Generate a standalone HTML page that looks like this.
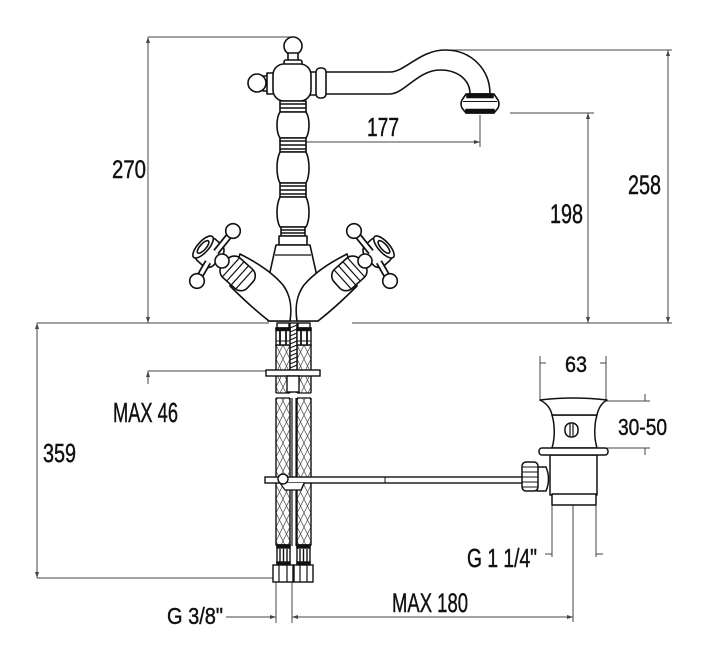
<!DOCTYPE html>
<html><head><meta charset="utf-8"><style>
html,body{margin:0;padding:0;background:#fff;}
svg{display:block;}
text{font-family:"Liberation Sans",sans-serif;fill:#111;stroke:#111;stroke-width:0.45;}
</style></head><body>
<svg width="705" height="662" viewBox="0 0 705 662" xmlns="http://www.w3.org/2000/svg">
<defs>
<pattern id="braid" x="276" y="345" width="7" height="14" patternUnits="userSpaceOnUse">
 <rect width="7" height="14" fill="#fff"/>
 <path d="M0,0 L7,14 M7,0 L0,14" stroke="#444" stroke-width="0.7"/>
</pattern>
</defs>

<!-- dimension lines -->
<g stroke="#444" stroke-width="1" fill="none">
 <path d="M148,37 H291 M148,37 V323"/>
 <path d="M37,323 H269 M37,323 V578 M37,578 H273"/>
 <path d="M148,311 V323 M148,371 H267 M148,371 V384"/>
 <path d="M300,142 H480 M480,115 V147"/>
 <path d="M510,113 H594 M588,113 V323"/>
 <path d="M443,50 H672 M668,50 V323 M352,323 H672"/>
 <path d="M540,356 V401 M606,356 V401 M540,363 H546 M600,363 H606"/>
 <path d="M606,401 H650 M606,448 H650 M645,394 V401 M645,448 V455"/>
 <path d="M552,505 V557 M596,505 V557 M545,554 H552 M596,554 H603 M573,505 V622"/>
 <path d="M292,617 H573 M292,582 V623 M276,582 V623 M226,617 H276"/>
</g>
<!-- small arrow tips -->
<g fill="#444" stroke="none">
 <path d="M148,37 l-2,6 h4z M148,323 l-2,-6 h4z M37,323 l-2,6 h4z M37,578 l-2,-6 h4z"/>
 <path d="M480,142 l-6,-2 v4z M588,113 l-2,6 h4z M588,323 l-2,-6 h4z M668,50 l-2,6 h4z M668,323 l-2,-6 h4z"/>
 <path d="M148,371 l-2,6 h4z M292,617 l6,-2 v4z M573,617 l-6,-2 v4z M276,617 l-6,-2 v4z"/>
</g>

<!-- labels -->
<text x="112" y="178" font-size="25" textLength="34" lengthAdjust="spacingAndGlyphs">270</text>
<text x="367" y="136" font-size="26" textLength="32" lengthAdjust="spacingAndGlyphs">177</text>
<text x="628" y="194" font-size="27" textLength="33" lengthAdjust="spacingAndGlyphs">258</text>
<text x="550" y="223" font-size="27" textLength="33" lengthAdjust="spacingAndGlyphs">198</text>
<text x="113" y="422" font-size="28" textLength="65" lengthAdjust="spacingAndGlyphs">MAX 46</text>
<text x="43" y="462" font-size="26" textLength="33" lengthAdjust="spacingAndGlyphs">359</text>
<text x="565" y="372" font-size="22" textLength="22" lengthAdjust="spacingAndGlyphs">63</text>
<text x="618" y="435" font-size="23" textLength="49" lengthAdjust="spacingAndGlyphs">30-50</text>
<text x="467" y="567" font-size="26" textLength="70" lengthAdjust="spacingAndGlyphs">G 1 1/4"</text>
<text x="392" y="612" font-size="27" textLength="76" lengthAdjust="spacingAndGlyphs">MAX 180</text>
<text x="167" y="624" font-size="23" textLength="56" lengthAdjust="spacingAndGlyphs">G 3/8"</text>

<!-- hoses -->
<g stroke="#111" stroke-width="1.4" fill="#fff">
 <rect x="276" y="345" width="14" height="200" fill="url(#braid)"/>
 <rect x="297" y="345" width="14" height="200" fill="url(#braid)"/>
 <!-- threaded rod -->
 <rect x="290" y="323" width="7" height="47"/>
 <path d="M290,328 L297,325 M290,332 L297,329 M290,336 L297,333 M290,340 L297,337 M290,344 L297,341 M290,348 L297,345 M290,352 L297,349 M290,356 L297,353 M290,360 L297,357 M290,364 L297,361 M290,368 L297,365" stroke-width="1"/>
 <!-- top fittings -->
 <rect x="277" y="323" width="12" height="5"/>
 <rect x="298" y="323" width="12" height="5"/>
 <rect x="276" y="328" width="14" height="17"/>
 <rect x="297" y="328" width="14" height="17"/>
 <rect x="276" y="328" width="14" height="2.5" fill="#111"/>
 <rect x="297" y="328" width="14" height="2.5" fill="#111"/>
 <path d="M280,331 V345 M286,331 V345 M301,331 V345 M307,331 V345" stroke-width="1.8"/>
 <path d="M276,341 H290 M297,341 H311" stroke-width="1"/>
 <!-- washer plate & nut -->
 <rect x="266" y="370" width="54" height="6"/>
 <rect x="287" y="376" width="12" height="16"/>
 <!-- break -->
 <rect x="274" y="393" width="40" height="5" fill="#fff" stroke="none"/>
 <path d="M276,393 H290 M297,393 H311 M276,398 H290 M297,398 H311" stroke-width="1.2"/>
 <!-- center rod -->
 <path d="M292,398 V546 M296,398 V546" stroke-width="1.2"/>
 <!-- pop-up rod -->
 <rect x="265" y="477" width="260" height="6"/>
 <path d="M385,477 V483" stroke-width="1"/>
 <path d="M280,483 L285,490 H301 L304,483" stroke-width="1.2"/>
 <circle cx="283" cy="479" r="5"/>
 <!-- bottom ferrules -->
 <rect x="277" y="545" width="13" height="20"/>
 <rect x="297" y="545" width="13" height="20"/>
 <rect x="277" y="545" width="13" height="3" fill="#111"/>
 <rect x="297" y="545" width="13" height="3" fill="#111"/>
 <rect x="277" y="562" width="13" height="3" fill="#111"/>
 <rect x="297" y="562" width="13" height="3" fill="#111"/>
 <path d="M280,549 V562 M283.5,549 V562 M287,549 V562 M300,549 V562 M303.5,549 V562 M307,549 V562" stroke-width="1.4"/>
 <!-- nuts -->
 <rect x="273" y="565" width="20" height="17"/>
 <rect x="294" y="565" width="19" height="17"/>
 <path d="M279,565 V582 M287,565 V582 M300,565 V582 M307,565 V582" stroke-width="1.2"/>
</g>

<!-- drain -->
<g stroke="#111" stroke-width="1.5" fill="#fff" stroke-linejoin="round">
 <rect x="550" y="455" width="47" height="40"/>
 <rect x="552" y="494" width="44" height="11"/>
 <path d="M552,415 C555,425 555,438 552,448 H597 C594,438 594,425 597,415 Z"/>
 <path d="M540,400 Q573,396 607,400 C600,404 598,410 597,415 H552 C551,410 548,404 540,400 Z"/>
 <rect x="565" y="423" width="13" height="14" rx="6"/>
 <path d="M570,424 V436 M573,424 V436" stroke-width="1.2"/>
 <rect x="539" y="448" width="69" height="7" rx="3"/>
 <path d="M537,467 H546 Q551,479 546,491 H537 Z"/>
 <rect x="522" y="462" width="16" height="29" rx="4"/>
 <path d="M522,467 H538 M522,472 H538 M522,477 H538 M522,482 H538 M522,487 H538" stroke-width="1"/>
</g>

<!-- faucet body -->
<g stroke="#111" stroke-width="1.6" fill="#fff" stroke-linejoin="round">
 <!-- spout -->
 <path d="M322,72 H390 C405,72 420,50 445,50 C472,50 490,70 490,94 H470 C470,80 458,70 440,70 C418,70 404,94 390,94 H322 Z"/>
 <path d="M466,94 H494 L498,100 Q500,104 498,108 L494,113 H466 L462,108 Q460,104 462,100 Z"/>
 <rect x="467" y="94" width="26" height="3.5" fill="#111"/>
 <rect x="466" y="109.5" width="28" height="3.5" fill="#111"/>
 <line x1="463" y1="101.5" x2="497" y2="101.5" stroke-width="1"/>
 <rect x="310" y="72" width="7" height="23"/>
 <rect x="316" y="68" width="10" height="30" rx="4"/>

 <!-- top ball & hub -->
 <circle cx="293" cy="46" r="9"/>
 <rect x="288" y="53" width="10" height="8"/>
 <rect x="284" y="60" width="18" height="6" rx="2"/>
 <rect x="263" y="76" width="6" height="15"/>
 <circle cx="257" cy="83" r="9"/>
 <rect x="267" y="73" width="7" height="21"/>
 <rect x="273" y="64" width="38" height="37" rx="11"/>

 <!-- column -->
 <rect x="280" y="101" width="26" height="11"/>
 <path d="M280,104 H306 M280,108 H306" stroke-width="1.4"/>
 <path d="M280,112 C276,118 276,132 280,138 H306 C310,132 310,118 306,112 Z"/>
 <rect x="280" y="138" width="26" height="14"/>
 <path d="M280,141 H306 M280,145 H306 M280,149 H306" stroke-width="1.6"/>
 <path d="M280,152 C276,160 276,176 280,183 H306 C310,176 310,160 306,152 Z"/>
 <rect x="280" y="183" width="26" height="14"/>
 <path d="M280,186 H306 M280,190 H306 M280,194 H306" stroke-width="1.6"/>
 <path d="M280,197 C276,205 276,220 280,227 H306 C310,220 310,205 306,197 Z"/>
 <rect x="281" y="227" width="24" height="9"/>
 <path d="M281,230 H305 M281,233 H305" stroke-width="1.4"/>
 <rect x="279" y="236" width="28" height="9"/>

 <!-- base -->
 <path d="M276,245 H310 L316,272 L318,321 H268 L270,272 Z"/>
 <line x1="275" y1="255" x2="311" y2="255" stroke-width="1.2"/>

 <!-- left handle -->
 <g>
  <path d="M240,254 C256,262 272,272 283,285 C291,296 292,308 290,321 L269,321 C260,314 246,302 230,286 Z"/>
  <g transform="translate(225,262) rotate(42)">
   <rect x="0" y="-13" width="34" height="26" rx="9"/>
   <path d="M8,-12.5 V12.5 M14,-13 V13 M20,-13 V13 M26,-12.5 V12.5" stroke-width="1.2"/>
  </g>
  <g transform="translate(212,255) rotate(42)">
   <rect x="-15" y="-14" width="23" height="28" rx="8"/>
   <ellipse cx="-12" cy="0" rx="5.5" ry="14"/>
   <ellipse cx="-12" cy="0" rx="3" ry="8"/>
  </g>
  <line x1="216" y1="252" x2="233" y2="231" stroke-width="7"/>
  <line x1="216" y1="252" x2="233" y2="231" stroke="#fff" stroke-width="3.5"/>
  <line x1="208" y1="262" x2="197" y2="281" stroke-width="7"/>
  <line x1="208" y1="262" x2="197" y2="281" stroke="#fff" stroke-width="3.5"/>
  <circle cx="233" cy="231" r="7.3"/>
  <circle cx="197" cy="281" r="7.3"/>
  <circle cx="222" cy="261" r="7"/>
 </g>
 <!-- right handle (mirror) -->
 <g transform="matrix(-1,0,0,1,587,0)">
  <path d="M240,254 C256,262 272,272 283,285 C291,296 292,308 290,321 L269,321 C260,314 246,302 230,286 Z"/>
  <g transform="translate(225,262) rotate(42)">
   <rect x="0" y="-13" width="34" height="26" rx="9"/>
   <path d="M8,-12.5 V12.5 M14,-13 V13 M20,-13 V13 M26,-12.5 V12.5" stroke-width="1.2"/>
  </g>
  <g transform="translate(212,255) rotate(42)">
   <rect x="-15" y="-14" width="23" height="28" rx="8"/>
   <ellipse cx="-12" cy="0" rx="5.5" ry="14"/>
   <ellipse cx="-12" cy="0" rx="3" ry="8"/>
  </g>
  <line x1="216" y1="252" x2="233" y2="231" stroke-width="7"/>
  <line x1="216" y1="252" x2="233" y2="231" stroke="#fff" stroke-width="3.5"/>
  <line x1="208" y1="262" x2="197" y2="281" stroke-width="7"/>
  <line x1="208" y1="262" x2="197" y2="281" stroke="#fff" stroke-width="3.5"/>
  <circle cx="233" cy="231" r="7.3"/>
  <circle cx="197" cy="281" r="7.3"/>
  <circle cx="222" cy="261" r="7"/>
 </g>
</g>
</svg>
</body></html>
